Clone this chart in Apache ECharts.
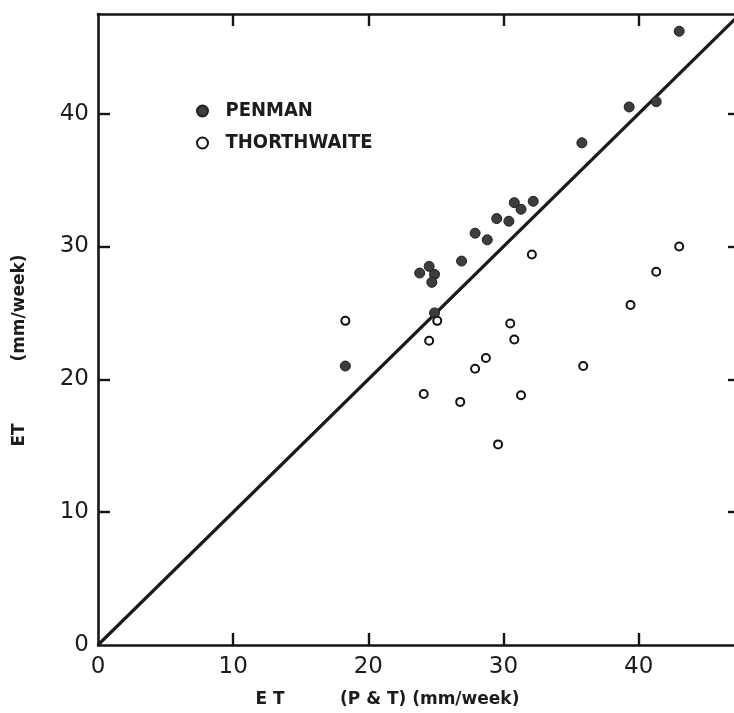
<!DOCTYPE html>
<html>
<head>
<meta charset="utf-8">
<style>
  html, body { margin: 0; padding: 0; background: #ffffff; }
  #chart { width: 734px; height: 713px; }
</style>
<script src="https://cdn.jsdelivr.net/npm/echarts@6/dist/echarts.min.js"></script>
</head>
<body>
<div id="chart"></div>
<script>
// Weekly evapotranspiration: estimates against the pan-and-tank (P & T) reference.
// Each pair is [ET (P & T), ET estimate], both in mm/week.
const penman = [
  [18.3, 21.0], [23.8, 28.0], [24.5, 28.5], [24.9, 27.9], [24.7, 27.3],
  [24.9, 25.0], [26.9, 28.9], [27.9, 31.0], [28.8, 30.5], [29.5, 32.1],
  [30.4, 31.9], [30.8, 33.3], [31.3, 32.8], [32.2, 33.4], [35.8, 37.8],
  [39.3, 40.5], [41.3, 40.9], [43.0, 46.2]
];
const thorthwaite = [
  [18.3, 24.4], [25.1, 24.4], [24.5, 22.9], [24.1, 18.9], [26.8, 18.3],
  [28.7, 21.6], [27.9, 20.8], [30.5, 24.2], [30.8, 23.0], [31.3, 18.8],
  [29.6, 15.1], [32.1, 29.4], [35.9, 21.0], [39.4, 25.6], [41.3, 28.1],
  [43.0, 30.0]
];
// 1:1 reference line
const oneToOne = [[0, 0], [47.5, 47.5]];

const axisMax = 47.5;
const tickValues = [10, 20, 30, 40];
const labelValues = [0, 10, 20, 30, 40];

const ink = '#151515';
const labelFont = 'DejaVu Sans';
const titleFont = 'DejaVu Sans';
const legendFont = '"DejaVu Sans Condensed", "DejaVu Sans"';

function frameAxis(position, withLabels) {
  return {
    type: 'value',
    position: position,
    min: 0,
    max: axisMax,
    interval: 10,
    splitLine: { show: false },
    axisLine: { show: true, onZero: false, lineStyle: { color: ink, width: 2.6 } },
    axisTick: {
      show: true, inside: true, length: 12,
      customValues: tickValues,
      lineStyle: { color: ink, width: 2.4 }
    },
    axisLabel: withLabels ? {
      show: true,
      customValues: labelValues,
      fontFamily: labelFont,
      fontSize: 23,
      color: '#1c1c1c',
      margin: position === 'bottom' ? 11 : 9
    } : { show: false }
  };
}

const chart = echarts.init(document.getElementById('chart'), null, { renderer: 'canvas' });

chart.setOption({
  backgroundColor: '#ffffff',
  animation: false,
  // the frame runs slightly past the right edge of the canvas
  grid: { left: 98, top: 14, width: 642, height: 631, outerBoundsMode: 'none', containLabel: false },
  xAxis: [frameAxis('bottom', true), frameAxis('top', false)],
  yAxis: [frameAxis('left', true), frameAxis('right', false)],
  legend: {
    orient: 'vertical',
    left: 191,
    top: 96,
    itemWidth: 36,
    itemHeight: 11,
    itemGap: 12,
    data: ['PENMAN', 'THORTHWAITE'],
    textStyle: {
      fontFamily: legendFont,
      fontWeight: 'bold',
      fontSize: 20,
      color: '#1c1c1c'
    }
  },
  series: [
    {
      name: '1:1',
      type: 'line',
      data: oneToOne,
      symbol: 'none',
      silent: true,
      lineStyle: { color: '#1a1a1a', width: 3.2 },
      z: 1
    },
    {
      name: 'PENMAN',
      type: 'scatter',
      data: penman,
      symbol: 'circle',
      symbolSize: 10,
      itemStyle: { color: '#3d3d3d', borderColor: '#202020', borderWidth: 1, opacity: 1 },
      z: 3
    },
    {
      name: 'THORTHWAITE',
      type: 'scatter',
      data: thorthwaite,
      symbol: 'emptyCircle',
      symbolSize: 8,
      itemStyle: { color: '#111111', borderColor: '#111111', borderWidth: 2.2, opacity: 1 },
      z: 3
    }
  ],
  graphic: [
    {
      type: 'text', x: 20, y: 435, rotation: Math.PI / 2,
      style: { text: 'ET', font: 'bold 17px ' + titleFont, fill: '#1c1c1c', align: 'center', verticalAlign: 'middle' }
    },
    {
      type: 'text', x: 20, y: 308, rotation: Math.PI / 2,
      style: { text: '(mm/week)', font: 'bold 17px ' + titleFont, fill: '#1c1c1c', align: 'center', verticalAlign: 'middle' }
    },
    {
      type: 'text', x: 270, y: 700,
      style: { text: 'E T', font: 'bold 17px ' + titleFont, fill: '#1c1c1c', align: 'center', verticalAlign: 'middle' }
    },
    {
      type: 'text', x: 340, y: 700,
      style: { text: '(P & T) (mm/week)', font: 'bold 17px ' + titleFont, fill: '#1c1c1c', align: 'left', verticalAlign: 'middle' }
    }
  ]
});
</script>
</body>
</html>
